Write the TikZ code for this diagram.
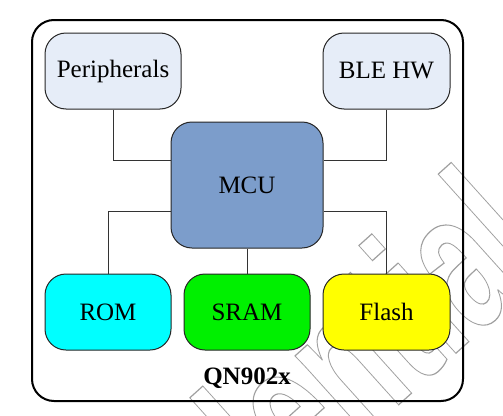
\documentclass[tikz,border=0pt]{standalone}
\usepackage{fontspec}
\setmainfont{Liberation Serif}
\newfontfamily\wmfont{Liberation Sans}
\definecolor{lightbox}{RGB}{230,237,248}
\definecolor{mcublue}{RGB}{124,157,203}
\definecolor{romcyan}{RGB}{0,255,255}
\definecolor{sramgreen}{RGB}{0,240,0}
\definecolor{flashyellow}{RGB}{255,255,0}
\definecolor{wmgray}{RGB}{160,160,160}
\begin{document}
\begin{tikzpicture}[x=1pt,y=-1pt,
  blk/.style={draw=black!85, line width=1pt, rounded corners=21pt,
    inner sep=0pt, font=\fontsize{25}{30}\selectfont},
  conn/.style={draw=black!80, line width=1pt}]
\useasboundingbox (0,0) rectangle (503,415);
\fill[white] (0,0) rectangle (503,415);
% watermark
\node[rotate=42, xscale=0.64, anchor=base east, inner sep=0pt, text=wmgray] (wm) at (555,264)
  {\fontsize{200}{200}\selectfont\wmfont\bfseries\special{pdf:literal direct 1 Tr 1.2 w}Confidential\special{pdf:literal direct 0 Tr}};
% chip frame
\node[draw=black, line width=2pt, rounded corners=22pt, minimum width=431pt, minimum height=381pt, inner sep=0pt] (chip) at (247.5,210.5) {};
% blocks
\node[blk, fill=lightbox, minimum width=136pt, minimum height=76pt] (perip) at (113,71) {Peripherals};
\node[blk, fill=lightbox, minimum width=127pt, minimum height=76pt] (ble) at (386.5,71) {BLE HW};
\node[blk, fill=mcublue, minimum width=152pt, minimum height=126pt] (mcu) at (247,185) {MCU};
\node[blk, fill=romcyan, minimum width=126pt, minimum height=76pt] (rom) at (108,312) {ROM};
\node[blk, fill=sramgreen, minimum width=126pt, minimum height=76pt] (sram) at (247,312) {SRAM};
\node[blk, fill=flashyellow, minimum width=127pt, minimum height=76pt] (flash) at (386.5,312) {Flash};
% connectors
\draw[conn] (perip.south) |- ([yshift=25pt]mcu.west);
\draw[conn] (ble.south) |- ([yshift=25pt]mcu.east);
\draw[conn] ([yshift=-26pt]mcu.west) -| (rom.north);
\draw[conn] ([yshift=-26pt]mcu.east) -| (flash.north);
\draw[conn] (mcu.south) -- (sram.north);
% label
\node[font=\fontsize{25}{30}\selectfont\bfseries, inner sep=0pt] (name) at (247,378) {QN902x};
\end{tikzpicture}
\end{document}
